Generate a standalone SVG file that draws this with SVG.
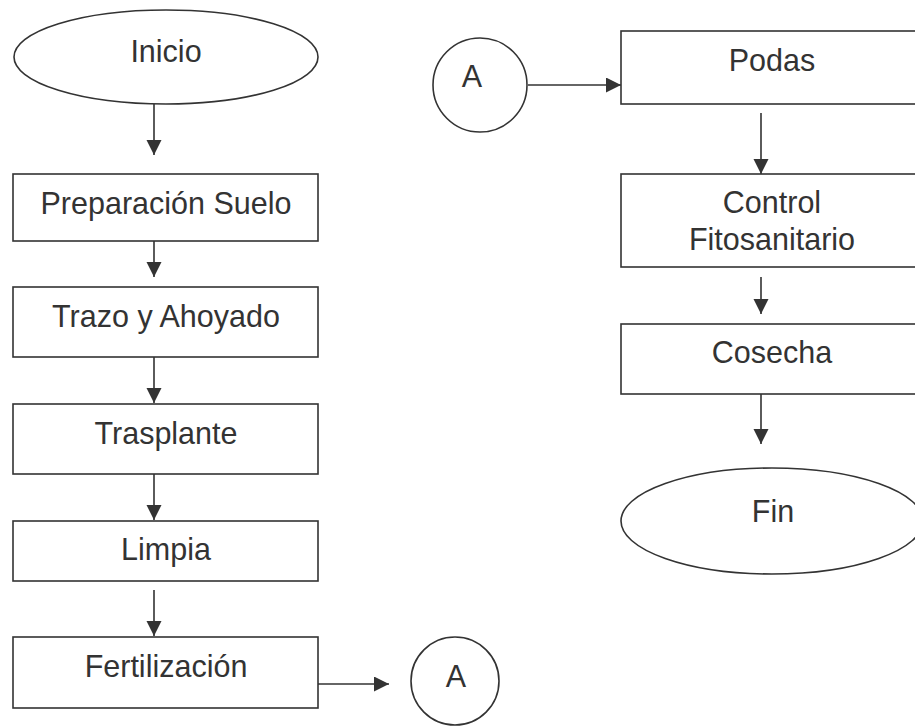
<svg xmlns="http://www.w3.org/2000/svg" width="915" height="726" viewBox="0 0 915 726">
<style>
.s{fill:#fff;stroke:#333;stroke-width:1.6}
.t{font-family:"Liberation Sans",Arial,Helvetica,sans-serif;font-size:30.5px;fill:#333;text-anchor:middle}
.c{stroke:#333;stroke-width:1.6;fill:none;marker-end:url(#ah)}
</style>
<defs>
<marker id="ah" markerUnits="userSpaceOnUse" markerWidth="16" markerHeight="16" refX="15" refY="7.5" orient="auto">
<path d="M0,0 L15,7.5 L0,15 Z" fill="#333"/>
</marker>
</defs>
<rect width="915" height="726" fill="#fff"/>
<g id="connectors">
<line class="c" x1="154" y1="104" x2="154" y2="155"/>
<line class="c" x1="154" y1="241" x2="154" y2="277"/>
<line class="c" x1="154" y1="357" x2="154" y2="403"/>
<line class="c" x1="154" y1="474" x2="154" y2="520"/>
<line class="c" x1="154" y1="590" x2="154" y2="636"/>
<line class="c" x1="318" y1="684" x2="389" y2="684"/>
<line class="c" x1="528" y1="85" x2="621" y2="85"/>
<line class="c" x1="761" y1="113" x2="761" y2="174"/>
<line class="c" x1="761" y1="277" x2="761" y2="314"/>
<line class="c" x1="761" y1="394" x2="761" y2="444"/>
</g>
<g id="inicio"><ellipse class="s" cx="166" cy="57" rx="152" ry="47"/><text class="t" x="166" y="62">Inicio</text></g>
<g id="preparacion"><rect class="s" x="13" y="174" width="305" height="67"/><text class="t" x="166" y="214">Preparación Suelo</text></g>
<g id="trazo"><rect class="s" x="13" y="287" width="305" height="70"/><text class="t" x="166" y="327">Trazo y Ahoyado</text></g>
<g id="trasplante"><rect class="s" x="13" y="404" width="305" height="70"/><text class="t" x="166" y="444">Trasplante</text></g>
<g id="limpia"><rect class="s" x="13" y="521" width="305" height="60"/><text class="t" x="166" y="560">Limpia</text></g>
<g id="fertilizacion"><rect class="s" x="13" y="637" width="305" height="71"/><text class="t" x="166" y="677">Fertilización</text></g>
<g id="conectorA1"><circle class="s" cx="455" cy="681" r="44"/><text class="t" x="456" y="687">A</text></g>
<g id="conectorA2"><circle class="s" cx="480" cy="85" r="47"/><text class="t" x="472" y="87">A</text></g>
<g id="podas"><rect class="s" x="621" y="31" width="305" height="73"/><text class="t" x="772" y="71">Podas</text></g>
<g id="control"><rect class="s" x="621" y="174" width="305" height="93"/><text class="t" x="772" y="213">Control</text><text class="t" x="772" y="250">Fitosanitario</text></g>
<g id="cosecha"><rect class="s" x="621" y="324" width="305" height="70"/><text class="t" x="772" y="363">Cosecha</text></g>
<g id="fin"><ellipse class="s" cx="772" cy="521" rx="151" ry="53"/><text class="t" x="773" y="522">Fin</text></g>
</svg>
